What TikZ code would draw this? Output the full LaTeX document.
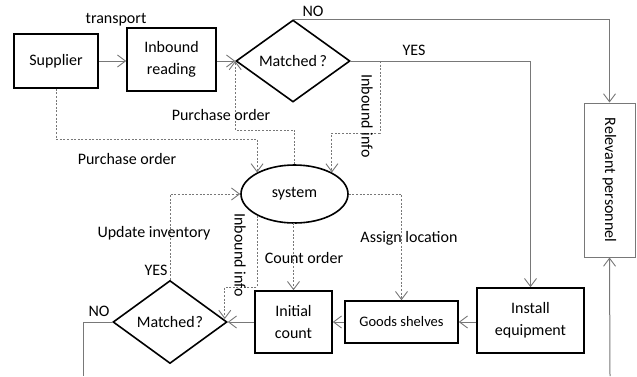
\documentclass[tikz,border=0pt]{standalone}
\usepackage{fontspec}
\setmainfont{Carlito}
\usetikzlibrary{shapes.geometric,arrows.meta}
\definecolor{conn}{RGB}{120,120,120}
\begin{document}
\begin{tikzpicture}[x=1pt,y=-1pt,
  font=\fontsize{16}{19}\selectfont,
  box/.style={draw=black,line width=1.6pt,rectangle,align=center,inner sep=0pt},
  dia/.style={draw=black,line width=1.6pt,diamond,inner sep=0pt,minimum width=114pt,minimum height=82pt},
  conline/.style={draw=conn,line width=1pt},
  dline/.style={draw=conn,line width=0.9pt,dash pattern=on 2pt off 1.6pt},
  tip/.style={-{Straight Barb[length=8pt,width=12pt,line width=0.9pt]}},
  lbl/.style={inner sep=0pt}]
\useasboundingbox (0,0) rectangle (637,376);

% nodes
\node[box,minimum width=84pt,minimum height=54pt] (sup) at (56,61) {Supplier};
\node[box,minimum width=89pt,minimum height=63pt] (inb) at (171.5,59.5) {Inbound\\[3pt]reading};
\node[dia] (m1) at (293,61) {Matched\,?};
\node[draw=black,line width=1.6pt,ellipse,minimum width=107pt,minimum height=58pt,inner sep=0pt] (sys) at (294.5,194) {system};
\node[draw=conn,line width=1pt,rectangle,minimum width=51pt,minimum height=154pt,inner sep=0pt] (rel) at (609.5,180) {\rotatebox{-90}{Relevant personnel}};
\node[dia,minimum width=114pt,minimum height=83pt] (m2) at (170,322) {Matched\kern1pt?};
\node[box,minimum width=77pt,minimum height=62pt] (ic) at (293.5,322) {Initial\\[3pt]count};
\node[box,minimum width=113pt,minimum height=42pt,font=\fontsize{14.5}{17}\selectfont] (gs) at (401.5,322) {Goods shelves};
\node[box,minimum width=107pt,minimum height=65pt] (ie) at (530.5,320.5) {Install\\[3pt]equipment};

\coordinate (yesx) at (380,61);
\coordinate (nobot) at (83,376);
\coordinate (relbot) at (610,376);

% solid connectors
\draw[conline,tip] (sup.east) -- (sup.east -| inb.west);
\draw[conline,tip] (inb.east |- m1.west) -- (m1.west);
\draw[conline,tip] (m1.north) -| (rel.north);
\draw[conline,tip] (m1.east) -| (ie.north);
\draw[conline,tip] (ie.west |- gs.east) -- (gs.east);
\draw[conline,tip] (gs.west) -- (ic.east |- gs.west);
\draw[conline,tip] (ic.west |- m2.east) -- (m2.east);
\draw[conline] (m2.west) -| (nobot);
\draw[conline,tip] (relbot) -- (rel.south);

% dashed connectors
\draw[dline,tip] (sup.south) -- (sup.south |- 0,139) -- (sys.150 |- 0,139) -- (sys.150);
\draw[dline,tip] (sys.north) -- (sys.north |- 0,130) -- (m1.west |- 0,130) -- (m1.west);
\draw[dline,tip] (yesx) -- (380,133) -- (sys.30 |- 0,133) -- (sys.30);
\draw[dline,tip] (m2.north) |- (sys.west);
\draw[dline,tip] (sys.210) -- (sys.210 |- 0,287) -- ([xshift=-3pt]m2.east |- 0,287) -- ([xshift=-3pt,yshift=3pt]m2.east);
\draw[dline,tip] (sys.south) -- (sys.south -| ic.north) -- (ic.north);
\draw[dline,tip] (sys.east) -| (gs.north);

% labels
\node[lbl] (ltr) at (116,20) {transport};
\node[lbl] (lno1) at (313,11) {NO};
\node[lbl] (lyes1) at (414,50) {YES};
\node[lbl] (lpo1) at (221,115) {Purchase order};
\node[lbl] (lpo2) at (127,159) {Purchase order};
\node[lbl,rotate=-90] (lii1) at (367,116) {Inbound info};
\node[lbl] (lui) at (154,233) {Update inventory};
\node[lbl] (lyes2) at (156,270) {YES};
\node[lbl] (lno2) at (99,311) {NO};
\node[lbl,rotate=-90] (lii2) at (240,255) {Inbound info};
\node[lbl] (lco) at (304,258) {Count order};
\node[lbl] (lal) at (409,238) {Assign location};
\end{tikzpicture}
\end{document}
